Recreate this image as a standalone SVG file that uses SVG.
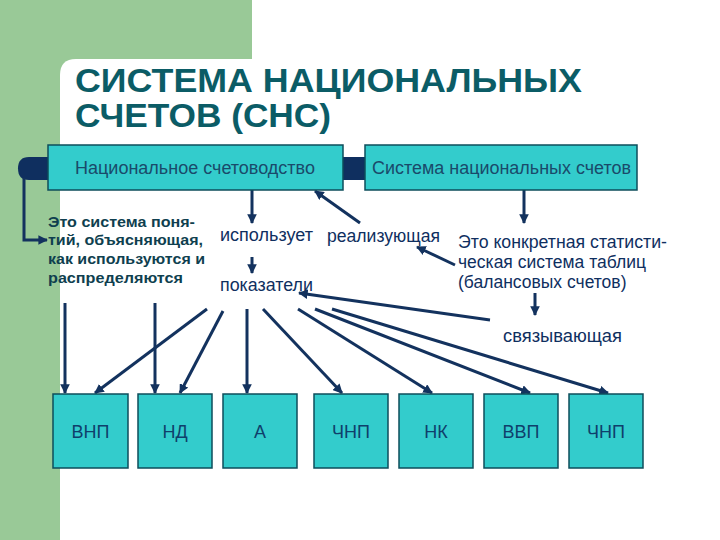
<svg xmlns="http://www.w3.org/2000/svg" width="720" height="540" viewBox="0 0 720 540">
<defs>
<marker id="ah" viewBox="0 0 10 10" refX="9" refY="5" markerWidth="3.2" markerHeight="3.2" orient="auto" markerUnits="strokeWidth">
<path d="M0,0 L10,5 L0,10 z" fill="#13325E"/>
</marker>
<style>
.ln{stroke:#13325E;stroke-width:3;fill:none;marker-end:url(#ah)}
.hb{fill:#33CCCC;stroke:#0E4D5B;stroke-width:1.5}
.bx{fill:#33CCCC;stroke:#0E4D5B;stroke-width:1.5}
.ht{font-family:"Liberation Sans",Arial,sans-serif;font-size:17.5px;fill:#1A4A6A}
.bt{font-family:"Liberation Sans",Arial,sans-serif;font-size:18px;fill:#0F3F6B;text-anchor:middle}
.tx{font-family:"Liberation Sans",Arial,sans-serif;font-size:17.5px;fill:#0F2F5F}
.lt{font-family:"Liberation Sans",Arial,sans-serif;font-size:15px;font-weight:bold;fill:#0F3F4F}
.ti{font-family:"Liberation Sans",Arial,sans-serif;font-size:34px;font-weight:bold;fill:#0B5C66}
</style>
</defs>
<rect width="720" height="540" fill="#FFFFFF"/>
<rect x="0" y="0" width="252" height="75" fill="#99C997"/>
<rect x="0" y="0" width="60" height="540" fill="#99C997"/>
<path d="M60,540 L60,75 Q60,59 76,59 L720,59 L720,540 z" fill="#FFFFFF"/>
<text class="ti" x="75" y="92" textLength="507" lengthAdjust="spacingAndGlyphs">СИСТЕМА НАЦИОНАЛЬНЫХ</text>
<text class="ti" x="75" y="127" textLength="256" lengthAdjust="spacingAndGlyphs">СЧЕТОВ (СНС)</text>
<g id="bar">
<path d="M29,157 L367,157 L367,180 L29,180 Q18,180 18,168.5 Q18,157 29,157 z" fill="#0F2F5F"/>
</g>
<g id="connectors">
<path class="ln" d="M24,178 L24,240 L47,240"/>
<path class="ln" d="M252,190 L252,223"/>
<path class="ln" d="M252,257 L252,273"/>
<path class="ln" d="M360,223 L315,191"/>
<path class="ln" d="M524,190 L524,223"/>
<path class="ln" d="M455,265 L417,247"/>
<path class="ln" d="M535,293 L535,315"/>
<path class="ln" d="M490,320 L299,293"/>
<path class="ln" d="M65,303 L65,393"/>
<path class="ln" d="M155,303 L155,393"/>
<path class="ln" d="M207,309 L95,393"/>
<path class="ln" d="M223,311 L180,393"/>
<path class="ln" d="M247,309 L247,393"/>
<path class="ln" d="M263,309 L342,393"/>
<path class="ln" d="M298,309 L432,393"/>
<path class="ln" d="M315,309 L530,393"/>
<path class="ln" d="M332,309 L608,393"/>
</g>
<g id="n1"><rect class="hb" x="48" y="145" width="295" height="45"/><text class="ht" x="75" y="174" textLength="240" lengthAdjust="spacingAndGlyphs">Национальное счетоводство</text></g>
<g id="n2"><rect class="hb" x="365" y="145" width="272" height="45"/><text class="ht" x="372" y="174" textLength="259" lengthAdjust="spacingAndGlyphs">Система национальных счетов</text></g>
<g id="t1">
<text class="lt" x="48" y="227" textLength="147" lengthAdjust="spacingAndGlyphs">Это система поня-</text>
<text class="lt" x="48" y="245" textLength="155" lengthAdjust="spacingAndGlyphs">тий, объясняющая,</text>
<text class="lt" x="48" y="264" textLength="157" lengthAdjust="spacingAndGlyphs">как используются и</text>
<text class="lt" x="48" y="283" textLength="135" lengthAdjust="spacingAndGlyphs">распределяются</text>
</g>
<g id="t2"><text class="tx" x="220" y="241" textLength="93" lengthAdjust="spacingAndGlyphs">использует</text></g>
<g id="t3"><text class="tx" x="220" y="291" textLength="93" lengthAdjust="spacingAndGlyphs">показатели</text></g>
<g id="t4"><text class="tx" x="327" y="242" textLength="113" lengthAdjust="spacingAndGlyphs">реализующая</text></g>
<g id="t5">
<text class="tx" x="458" y="248" textLength="209" lengthAdjust="spacingAndGlyphs">Это конкретная статисти-</text>
<text class="tx" x="458" y="268">ческая система таблиц</text>
<text class="tx" x="458" y="288">(балансовых счетов)</text>
</g>
<g id="t6"><text class="tx" x="503" y="342" textLength="119" lengthAdjust="spacingAndGlyphs">связывающая</text></g>
<g id="b1"><rect class="bx" x="53" y="394" width="75" height="74"/><text class="bt" x="90.5" y="438">ВНП</text></g>
<g id="b2"><rect class="bx" x="138" y="394" width="74" height="74"/><text class="bt" x="175" y="438">НД</text></g>
<g id="b3"><rect class="bx" x="223" y="394" width="74" height="74"/><text class="bt" x="260" y="438">А</text></g>
<g id="b4"><rect class="bx" x="314" y="394" width="74" height="74"/><text class="bt" x="351" y="438">ЧНП</text></g>
<g id="b5"><rect class="bx" x="399" y="394" width="74" height="74"/><text class="bt" x="436" y="438">НК</text></g>
<g id="b6"><rect class="bx" x="484" y="394" width="74" height="74"/><text class="bt" x="521" y="438">ВВП</text></g>
<g id="b7"><rect class="bx" x="569" y="394" width="74" height="74"/><text class="bt" x="606" y="438">ЧНП</text></g>
</svg>
